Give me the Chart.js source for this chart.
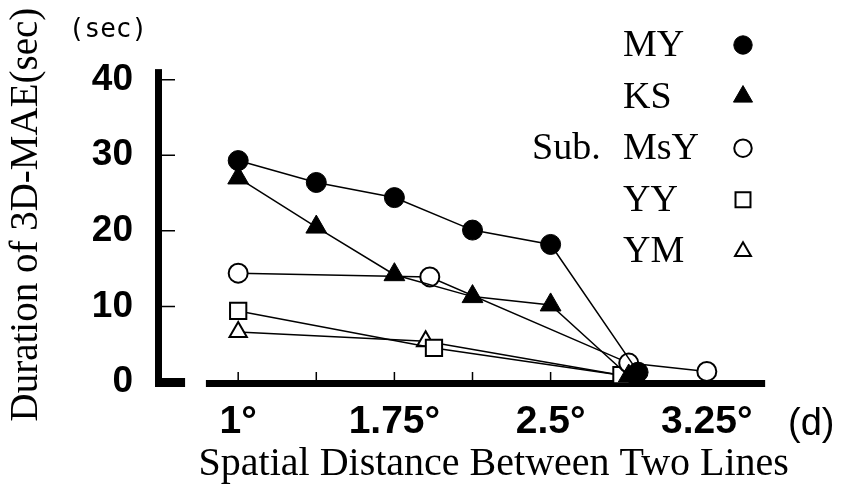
<!DOCTYPE html>
<html>
<head>
<meta charset="utf-8">
<script src="https://cdn.jsdelivr.net/npm/chart.js@4/dist/chart.umd.min.js"></script>
<style>
  html, body { margin: 0; padding: 0; background: #fff; }
</style>
</head>
<body>
<canvas id="chart" width="843" height="490"></canvas>
<script>
// values (x = spatial distance in deg, y = seconds)
const subjects = ['MY', 'KS', 'MsY', 'YY', 'YM'];
const myX  = [1, 1.375, 1.75, 2.125, 2.5, 2.92];
const myY  = [29.3, 26.4, 24.4, 20.1, 18.2, 1.3];
const ksX  = [1, 1.375, 1.75, 2.125, 2.5, 2.875];
const ksY  = [27.0, 20.5, 14.2, 11.3, 10.2, 0.8];
const msyX = [1, 1.92, 2.875, 3.25];
const msyY = [14.4, 13.9, 2.5, 1.4];
const yyX  = [1, 1.94, 2.84];
const yyY  = [9.4, 4.5, 0.9];
const ymX  = [1, 1.9, 2.86];
const ymY  = [6.6, 5.4, 0.8];

const xTicks = [1, 1.75, 2.5, 3.25];
const xMarks = [1, 1.375, 1.75, 2.125, 2.5];
const yTicks = [0, 10, 20, 30, 40];

// axis ranges / where the hand drawn axis lines start and stop
const xMin = 0.615, xMax = 3.839;
const yMin = 0, yMax = 44.3;
const yLineTop = 41.4;
const footEnd = 0.745;
const xLineStart = 0.845, xLineEnd = 3.53;

const serif = "'Liberation Serif', 'Times New Roman', serif";
const sans = "'Liberation Sans', Arial, sans-serif";

const pts = (xs, ys) => xs.map((x, i) => ({ x: x, y: ys[i] }));

function series(label, xs, ys, style, radius, filled, bw) {
  return {
    label: label,
    data: pts(xs, ys),
    showLine: true,
    fill: false,
    tension: 0,
    clip: false,
    borderColor: '#000',
    borderWidth: 1.5,
    pointStyle: style,
    pointRadius: radius,
    pointBackgroundColor: filled ? '#000' : '#fff',
    pointBorderColor: '#000',
    pointBorderWidth: bw,
  };
}

const datasets = [
  series(subjects[0], myX, myY, 'circle', 10, true, 1),
  series(subjects[1], ksX, ksY, 'triangle', 12, true, 1),
  series(subjects[2], msyX, msyY, 'circle', 9.5, false, 2),
  series(subjects[3], yyX, yyY, 'rect', 11.5, false, 2),
  series(subjects[4], ymX, ymY, 'triangle', 10, false, 2),
];

// thick axis lines, tick marks, legend and extra labels
const paperAxes = {
  id: 'paperAxes',
  beforeDatasetsDraw(chart) {
    const { ctx, scales: { x, y } } = chart;
    const lx = x.getPixelForValue(xMin);
    const y0 = y.getPixelForValue(0);
    ctx.save();
    ctx.fillStyle = '#000';
    ctx.fillRect(lx - 3, y.getPixelForValue(yLineTop), 7, y0 - y.getPixelForValue(yLineTop) + 5);
    ctx.fillRect(lx - 3, y0 - 4, x.getPixelForValue(footEnd) - lx + 3, 9);
    ctx.fillRect(x.getPixelForValue(xLineStart), y0 - 2, x.getPixelForValue(xLineEnd) - x.getPixelForValue(xLineStart), 7);
    ctx.strokeStyle = '#000';
    ctx.lineWidth = 1.5;
    ctx.beginPath();
    yTicks.slice(1).forEach(v => {
      const py = y.getPixelForValue(v);
      ctx.moveTo(lx + 3, py);
      ctx.lineTo(lx + 17, py);
    });
    xMarks.forEach(v => {
      const px = x.getPixelForValue(v);
      ctx.moveTo(px, y0 - 2);
      ctx.lineTo(px, y0 - 10);
    });
    ctx.stroke();
    ctx.restore();
  },
  afterDraw(chart) {
    const { ctx } = chart;
    ctx.save();
    ctx.fillStyle = '#000';
    ctx.textBaseline = 'alphabetic';

    ctx.font = "26px 'DejaVu Sans Mono', monospace";
    ctx.textAlign = 'center';
    ctx.fillText('(sec)', 108, 37);

    ctx.font = '38px ' + sans;
    ctx.textAlign = 'left';
    ctx.fillText('(d)', 788, 435);

    // legend
    ctx.font = '38px ' + serif;
    chart.data.datasets.forEach((ds, i) => {
      const base = 56 + i * 51.6;
      ctx.fillStyle = '#000';
      ctx.textAlign = 'left';
      ctx.fillText(ds.label, 623, base);
      ctx.save();
      ctx.fillStyle = ds.pointBackgroundColor;
      ctx.strokeStyle = ds.pointBorderColor;
      ctx.lineWidth = ds.pointBorderWidth;
      Chart.helpers.drawPoint(ctx, {
        pointStyle: ds.pointStyle,
        radius: ds.pointRadius * 0.92,
        rotation: 0,
        borderWidth: ds.pointBorderWidth,
      }, 743, base - 11);
      ctx.restore();
    });
    ctx.fillStyle = '#000';
    ctx.fillText('Sub.', 532, 56 + 2 * 51.6);
    ctx.restore();
  }
};

const config = {
  type: 'scatter',
  data: { datasets: datasets },
  options: {
    responsive: false,
    animation: false,
    events: [],
    layout: { padding: { top: 32, right: 7, left: 0, bottom: 0 } },
    plugins: {
      legend: { display: false },
      tooltip: { enabled: false },
    },
    scales: {
      x: {
        type: 'linear',
        min: xMin,
        max: xMax,
        border: { display: false },
        grid: { display: false, drawTicks: false, tickLength: 0 },
        afterBuildTicks: s => { s.ticks = xTicks.map(v => ({ value: v })); },
        afterFit: s => { s.height = 108; },
        ticks: {
          padding: 17,
          color: '#000',
          font: { family: sans, size: 39, weight: 'bold' },
          callback: v => v + '°',
        },
        title: {
          display: true,
          text: 'Spatial Distance Between Two Lines',
          color: '#000',
          font: { family: serif, size: 40 },
          padding: { top: 0, bottom: 2 },
        },
      },
      y: {
        type: 'linear',
        min: yMin,
        max: yMax,
        border: { display: false },
        grid: { display: false, drawTicks: false, tickLength: 0 },
        afterBuildTicks: s => { s.ticks = yTicks.map(v => ({ value: v })); },
        afterFit: s => { s.width = 158; },
        ticks: {
          padding: 25,
          color: '#000',
          font: { family: sans, size: 37, weight: 'bold' },
        },
        title: {
          display: true,
          text: 'Duration of 3D-MAE(sec)',
          color: '#000',
          font: { family: serif, size: 39 },
          padding: { top: 3, bottom: 0 },
        },
      },
    },
  },
  plugins: [paperAxes],
};

new Chart(document.getElementById('chart'), config);
</script>
</body>
</html>
